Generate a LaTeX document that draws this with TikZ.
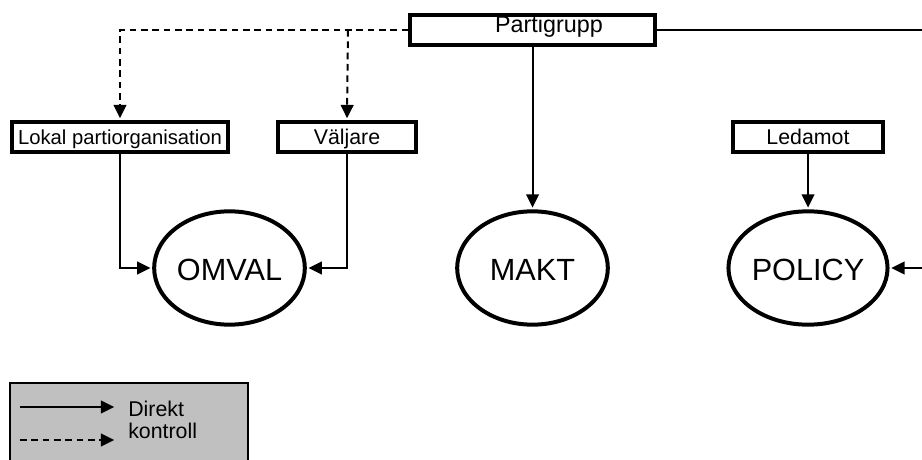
\documentclass[tikz,border=0pt]{standalone}
\usepackage{fontspec}
\setmainfont{Liberation Sans}
\usetikzlibrary{shapes.geometric, arrows.meta}
\definecolor{legendgray}{HTML}{C0C0C0}

\begin{document}
\begin{tikzpicture}[x=0.75pt, y=-0.75pt, >={Triangle[length=10pt, width=9.5pt]}, line join=miter,
    box/.style={draw, line width=3pt, inner sep=0pt, minimum height=22.5pt,
        text height=12pt, text depth=0pt, font=\fontsize{16}{19}\selectfont},
    goal/.style={draw, ellipse, line width=3pt, inner sep=0pt, minimum width=113pt,
        minimum height=85pt, text height=18pt, text depth=0pt, font=\fontsize{23}{27}\selectfont},
    link/.style={line width=1.5pt, ->, shorten >=1.3pt},
    ctrl/.style={link, dash pattern=on 5pt off 3.5pt}]
    \useasboundingbox (0,0) rectangle (922,460);

    % 1. 顶部方框 Partigrupp
    \node[box, minimum width=183.5pt, text height=12.5pt, text depth=8pt,
        font=\fontsize{17.5}{21}\selectfont] (party) at (532.5,30) {\hspace*{24.75pt}Partigrupp};

    % 2. 中间一排方框
    \node[box, minimum width=162pt, font=\fontsize{15.2}{18}\selectfont] (lokal) at (120,137) {Lokal partiorganisation};
    \node[box, minimum width=103.5pt] (valj) at (347,137) {Väljare};
    \node[box, minimum width=112.5pt] (ledamot) at (808,137) {Ledamot};

    % 3. 三个椭圆
    \node[goal] (omval) at (229.5,268) {OMVAL};
    \node[goal] (makt) at (532.5,268) {MAKT};
    \node[goal] (policy) at (808,268) {POLICY};

    % 间接控制 (虚线)
    \coordinate (split) at (348,30);
    \draw[ctrl] (party.west) -| (lokal.north);
    \draw[ctrl] (split) -- (valj.north);

    % 直接控制 (实线), 右侧线段伸出画面
    \coordinate (edgeR) at (930,30);
    \coordinate (edgeP) at (930,268);
    \draw[line width=1.5pt] (party.east) -- (edgeR);
    \draw[link] (party.south) -- (makt.north);
    \draw[link] (lokal.south) |- (omval.west);
    \draw[link] (valj.south) |- (omval.east);
    \draw[link] (ledamot.south) -- (policy.north);
    \draw[link] (edgeP) -- (policy.east);

    % 4. 图例 (下边框在画面外)
    \draw[fill=legendgray, line width=1.5pt] (10,383) rectangle (248,470);
    \coordinate (s1) at (20,407);
    \coordinate (s2) at (116,407);
    \coordinate (d1) at (20,440);
    \coordinate (d2) at (116,440);
    \draw[link] (s1) -- (s2);
    \draw[ctrl] (d1) -- (d2);
    \node[anchor=west, align=left, inner sep=0pt, font=\fontsize{16}{16.5}\selectfont] (legtext) at (128,420) {Direkt\\kontroll};
\end{tikzpicture}
\end{document}
